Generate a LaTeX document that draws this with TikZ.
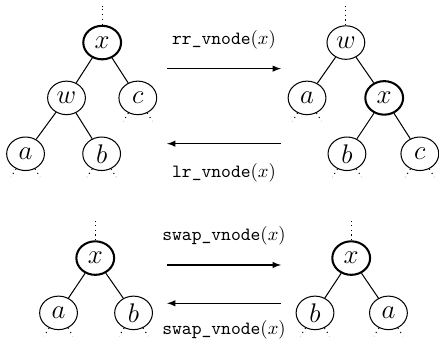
\documentclass[tikz,border=0pt]{standalone}
\usepackage{amsmath}
\usepackage{amssymb}
\usetikzlibrary{shapes.geometric}

\tikzset{
  vnode/.style={draw, ellipse, line width=0.55pt, minimum width=7.1mm, minimum height=6.3mm,
    inner sep=0pt, font=\fontsize{13.5pt}{16pt}\selectfont},
  curnode/.style={vnode, line width=1.1pt},
  edge/.style={line width=0.55pt},
  stub/.style={dotted, line width=0.55pt},
  move/.style={->, >=latex, line width=0.55pt},
}

\begin{document}
\begin{tikzpicture}
\useasboundingbox (0,0) rectangle (8.25,6.50);

% rotation, left tree
\node[curnode] (x1) at (1.92,5.70) {$x$};
\node[vnode] (w1) at (1.25,4.66) {$w$};
\node[vnode] (c1) at (2.59,4.66) {$c$};
\node[vnode] (a1) at (0.48,3.61) {$a$};
\node[vnode] (b1) at (1.91,3.61) {$b$};
\draw[edge] (x1) -- (w1);
\draw[edge] (x1) -- (c1);
\draw[edge] (w1) -- (a1);
\draw[edge] (w1) -- (b1);
\draw[stub] (x1.north) -- ++(0,0.36);
\draw[stub] (c1.-122) -- ++(-122:0.18);
\draw[stub] (c1.-58) -- ++(-58:0.18);
\draw[stub] (a1.-122) -- ++(-122:0.18);
\draw[stub] (a1.-58) -- ++(-58:0.18);
\draw[stub] (b1.-122) -- ++(-122:0.18);
\draw[stub] (b1.-58) -- ++(-58:0.18);

% rotation, right tree
\node[vnode] (w2) at (6.50,5.70) {$w$};
\node[vnode] (a2) at (5.77,4.66) {$a$};
\node[curnode] (x2) at (7.22,4.66) {$x$};
\node[vnode] (b2) at (6.52,3.61) {$b$};
\node[vnode] (c2) at (7.89,3.61) {$c$};
\draw[edge] (w2) -- (a2);
\draw[edge] (w2) -- (x2);
\draw[edge] (x2) -- (b2);
\draw[edge] (x2) -- (c2);
\draw[stub] (w2.north) -- ++(0,0.36);
\draw[stub] (a2.-122) -- ++(-122:0.18);
\draw[stub] (a2.-58) -- ++(-58:0.18);
\draw[stub] (b2.-122) -- ++(-122:0.18);
\draw[stub] (b2.-58) -- ++(-58:0.18);
\draw[stub] (c2.-122) -- ++(-122:0.18);
\draw[stub] (c2.-58) -- ++(-58:0.18);

% rotation arrows
\coordinate (rrs) at (3.14,5.21);
\coordinate (rre) at (5.28,5.21);
\coordinate (lrs) at (5.28,3.80);
\coordinate (lre) at (3.14,3.80);
\draw[move] (rrs) -- (rre);
\draw[move] (lrs) -- (lre);
\node (rrlab) at (4.21,5.75) {\texttt{rr\_vnode}$(x)$};
\node (lrlab) at (4.21,3.25) {\texttt{lr\_vnode}$(x)$};

% swap, left tree
\node[curnode] (x3) at (1.79,1.65) {$x$};
\node[vnode] (a3) at (1.10,0.62) {$a$};
\node[vnode] (b3) at (2.51,0.62) {$b$};
\draw[edge] (x3) -- (a3);
\draw[edge] (x3) -- (b3);
\draw[stub] (x3.north) -- ++(0,0.36);
\draw[stub] (a3.-122) -- ++(-122:0.18);
\draw[stub] (a3.-58) -- ++(-58:0.18);
\draw[stub] (b3.-122) -- ++(-122:0.18);
\draw[stub] (b3.-58) -- ++(-58:0.18);

% swap, right tree
\node[curnode] (x4) at (6.60,1.65) {$x$};
\node[vnode] (b4) at (5.92,0.62) {$b$};
\node[vnode] (a4) at (7.30,0.62) {$a$};
\draw[edge] (x4) -- (b4);
\draw[edge] (x4) -- (a4);
\draw[stub] (x4.north) -- ++(0,0.36);
\draw[stub] (b4.-122) -- ++(-122:0.18);
\draw[stub] (b4.-58) -- ++(-58:0.18);
\draw[stub] (a4.-122) -- ++(-122:0.18);
\draw[stub] (a4.-58) -- ++(-58:0.18);

% swap arrows
\coordinate (sws) at (3.14,1.52);
\coordinate (swe) at (5.28,1.52);
\coordinate (sbs) at (5.28,0.80);
\coordinate (sbe) at (3.14,0.80);
\draw[move] (sws) -- (swe);
\draw[move] (sbs) -- (sbe);
\node (swlab) at (4.21,2.06) {\texttt{swap\_vnode}$(x)$};
\node (sblab) at (4.21,0.30) {\texttt{swap\_vnode}$(x)$};

\end{tikzpicture}
\end{document}
